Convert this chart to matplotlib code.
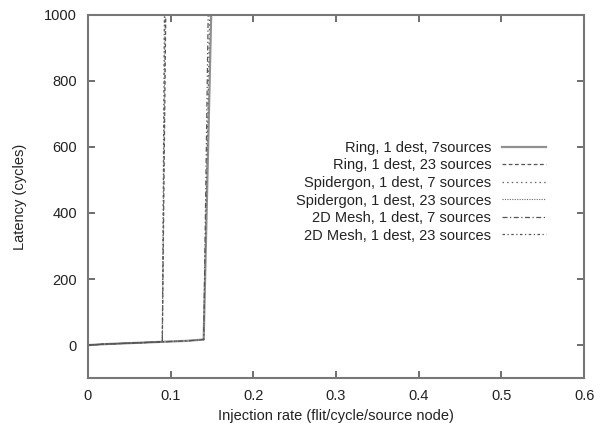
import matplotlib
matplotlib.use("Agg")
import matplotlib.pyplot as plt

plt.rcParams['font.family'] = ['Liberation Sans', 'DejaVu Sans']

# Data (injection rate, latency)
ring7_x = [0.0, 0.02, 0.04, 0.06, 0.08, 0.10, 0.12, 0.14, 0.15]
ring7_y = [0, 3, 5, 7, 9, 11, 13, 17, 1100]
ring23_x = [0.0, 0.02, 0.04, 0.06, 0.08, 0.09, 0.095]
ring23_y = [0, 3, 5, 7, 9, 11, 1200]
spid7_x = [0.0, 0.02, 0.04, 0.06, 0.08, 0.10, 0.12, 0.14, 0.148]
spid7_y = [0, 3, 5, 7, 9, 11, 13, 16, 1100]
spid23_x = [0.0, 0.02, 0.04, 0.06, 0.08, 0.09, 0.094]
spid23_y = [0, 3, 5, 7, 9, 10, 1200]
mesh7_x = [0.0, 0.02, 0.04, 0.06, 0.08, 0.10, 0.12, 0.14, 0.146]
mesh7_y = [0, 3, 5, 7, 9, 11, 13, 17, 1100]
mesh23_x = [0.0, 0.02, 0.04, 0.06, 0.08, 0.09, 0.093]
mesh23_y = [0, 3, 5, 7, 9, 10, 1200]

labels = ["Ring, 1 dest, 7sources", "Ring, 1 dest, 23 sources",
          "Spidergon, 1 dest, 7 sources", "Spidergon, 1 dest, 23 sources",
          "2D Mesh, 1 dest, 7 sources", "2D Mesh, 1 dest, 23 sources"]

xticks = [0, 0.1, 0.2, 0.3, 0.4, 0.5, 0.6]
yticks = [0, 200, 400, 600, 800, 1000]

FS = 10.5

fig = plt.figure(figsize=(6.06, 4.23), dpi=100)
ax = fig.add_axes([0.145, 0.106, 0.819, 0.859])

ax.plot(ring7_x, ring7_y, color='#909090', lw=1.6, ls='-', label=labels[0])
ax.plot(ring23_x, ring23_y, color='#555555', lw=0.9, ls=(0, (3, 2)), label=labels[1])
ax.plot(spid7_x, spid7_y, color='#666666', lw=0.9, ls=(0, (1.2, 2.5)), label=labels[2])
ax.plot(spid23_x, spid23_y, color='#666666', lw=0.8, ls=(0, (1, 1.2)), label=labels[3])
ax.plot(mesh7_x, mesh7_y, color='#555555', lw=0.9, ls=(0, (4, 2, 1, 2)), label=labels[4])
ax.plot(mesh23_x, mesh23_y, color='#555555', lw=0.9, ls=(0, (2, 2, 1, 2)), label=labels[5])

ax.set_xlim(0, 0.6)
ax.set_ylim(-100, 1000)
ax.set_xticks(xticks)
ax.set_xticklabels(['0', '0.1', '0.2', '0.3', '0.4', '0.5', '0.6'])
ax.set_yticks(yticks)
ax.tick_params(direction='in', top=True, right=True, length=5, width=1.2,
               color='#555555', labelsize=FS, labelcolor='#222222', pad=8)
for s in ax.spines.values():
    s.set_color('#777777')
    s.set_linewidth(1.5)

ax.set_xlabel('Injection rate (flit/cycle/source node)', fontsize=FS, color='#222222', labelpad=4)
ax.set_ylabel('Latency (cycles)', fontsize=FS, color='#222222', labelpad=12)

leg = ax.legend(loc='upper right', bbox_to_anchor=(546/606, 1 - 141/423),
                bbox_transform=fig.transFigure, frameon=False, markerfirst=False,
                fontsize=FS, handlelength=3.0, handletextpad=0.75,
                labelspacing=0.24, borderpad=0, borderaxespad=0)
for t in leg.get_texts():
    t.set_color('#222222')

fig.savefig('out.png', dpi=100)
